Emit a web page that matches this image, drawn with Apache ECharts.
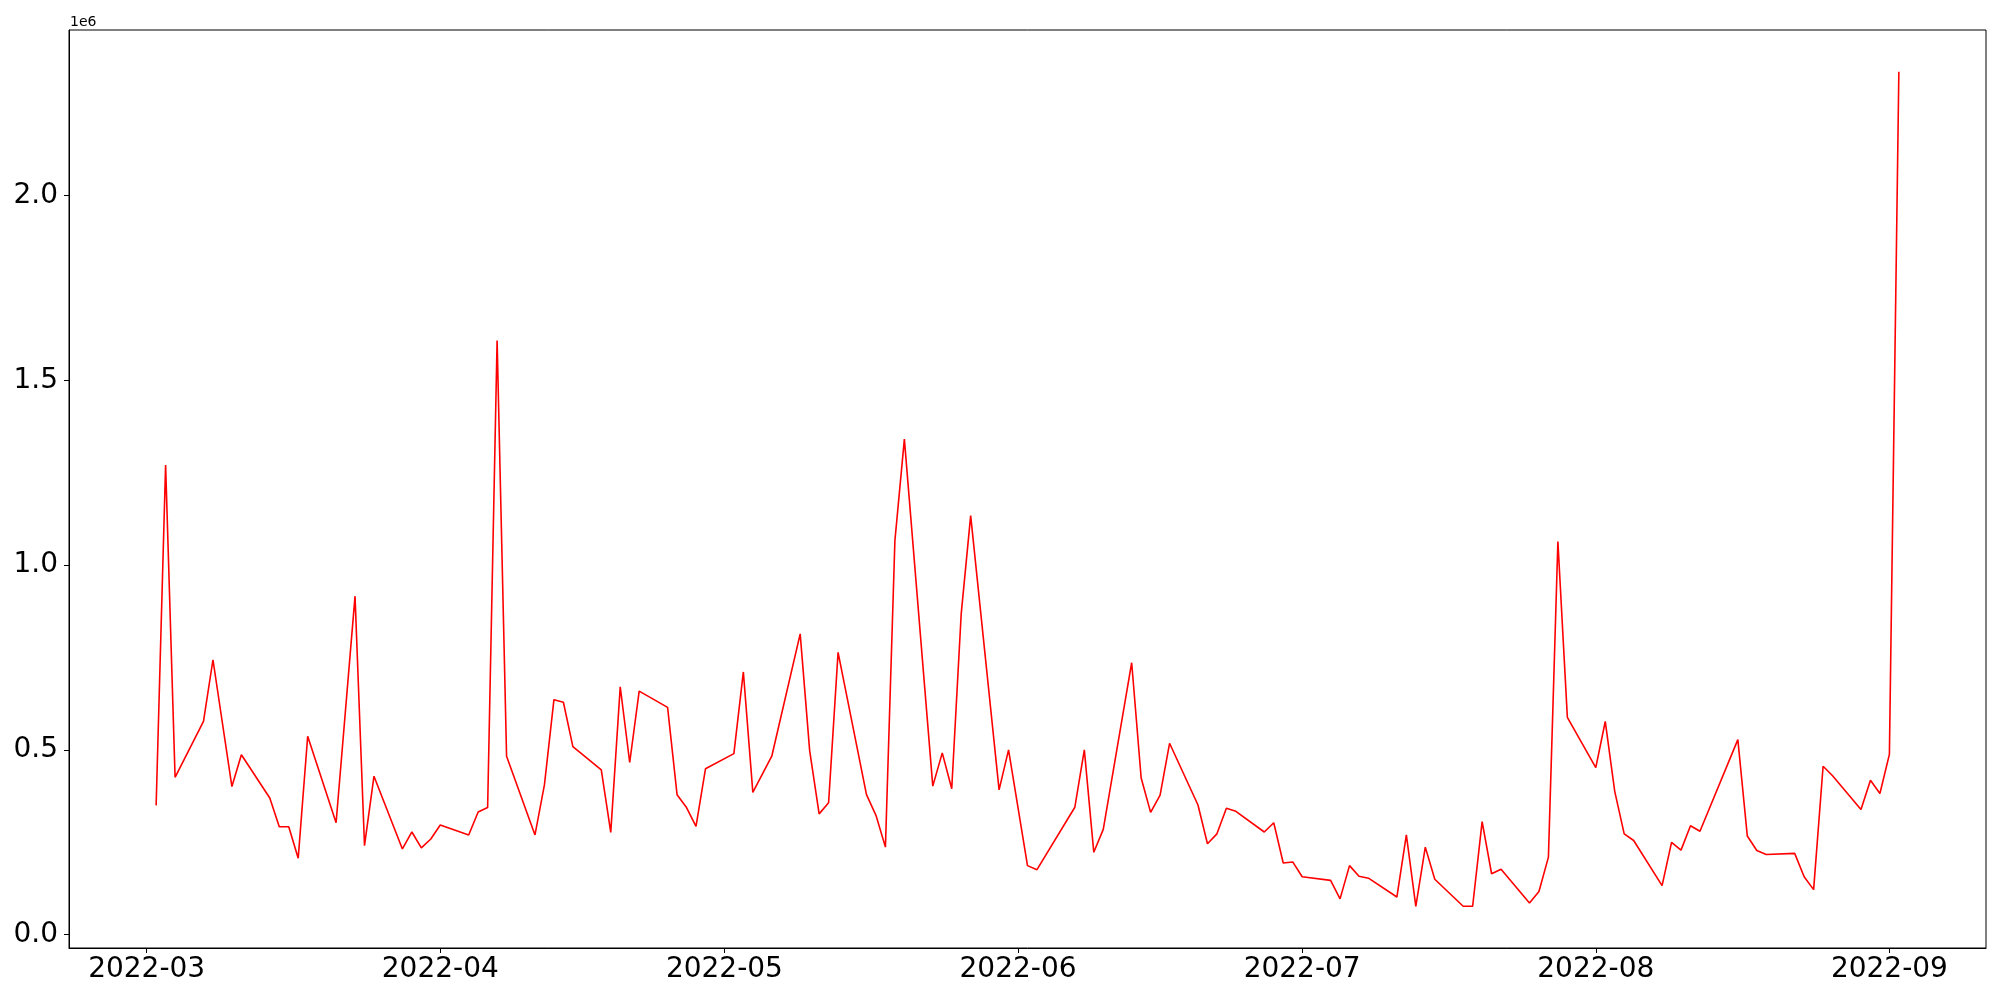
<!DOCTYPE html>
<html>
<head>
<meta charset="utf-8">
<script src="https://cdn.jsdelivr.net/npm/echarts@6/dist/echarts.min.js"></script>
<style>
  html, body { margin: 0; padding: 0; background: #fff; }
  #chart { width: 2000px; height: 1000px; }
</style>
</head>
<body>
<div id="chart"></div>
<script>
const dates = [
  '2022-03-02','2022-03-03','2022-03-04','2022-03-07','2022-03-08','2022-03-10','2022-03-11',
  '2022-03-14','2022-03-15','2022-03-16','2022-03-17','2022-03-18','2022-03-21','2022-03-23',
  '2022-03-24','2022-03-25','2022-03-28','2022-03-29','2022-03-30','2022-03-31','2022-04-01',
  '2022-04-04','2022-04-05','2022-04-06','2022-04-07','2022-04-08','2022-04-11','2022-04-12',
  '2022-04-13','2022-04-14','2022-04-15','2022-04-18','2022-04-19','2022-04-20','2022-04-21',
  '2022-04-22','2022-04-25','2022-04-26','2022-04-27','2022-04-28','2022-04-29','2022-05-02',
  '2022-05-03','2022-05-04','2022-05-06','2022-05-09','2022-05-10','2022-05-11','2022-05-12',
  '2022-05-13','2022-05-16','2022-05-17','2022-05-18','2022-05-19','2022-05-20','2022-05-23',
  '2022-05-24','2022-05-25','2022-05-26','2022-05-27','2022-05-30','2022-05-31','2022-06-02',
  '2022-06-03','2022-06-07','2022-06-08','2022-06-09','2022-06-10','2022-06-13','2022-06-14',
  '2022-06-15','2022-06-16','2022-06-17','2022-06-20','2022-06-21','2022-06-22','2022-06-23',
  '2022-06-24','2022-06-27','2022-06-28','2022-06-29','2022-06-30','2022-07-01','2022-07-04',
  '2022-07-05','2022-07-06','2022-07-07','2022-07-08','2022-07-11','2022-07-12','2022-07-13',
  '2022-07-14','2022-07-15','2022-07-18','2022-07-19','2022-07-20','2022-07-21','2022-07-22',
  '2022-07-25','2022-07-26','2022-07-27','2022-07-28','2022-07-29','2022-08-01','2022-08-02',
  '2022-08-03','2022-08-04','2022-08-05','2022-08-08','2022-08-09','2022-08-10','2022-08-11',
  '2022-08-12','2022-08-16','2022-08-17','2022-08-18','2022-08-19','2022-08-22','2022-08-23',
  '2022-08-24','2022-08-25','2022-08-26','2022-08-29','2022-08-30','2022-08-31','2022-09-01',
  '2022-09-02'
];
const values = [
  350000,1271000,426000,577000,744000,401000,487000,
  370000,292000,292000,207000,537000,303000,916000,
  241000,429000,232000,278000,235000,259000,297000,
  270000,332000,344000,1608000,483000,270000,406000,
  636000,629000,509000,446000,277000,671000,466000,
  659000,615000,379000,344000,293000,449000,490000,
  711000,385000,483000,814000,498000,327000,357000,
  764000,379000,323000,237000,1066000,1341000,402000,
  492000,395000,868000,1134000,392000,500000,187000,
  176000,345000,500000,223000,285000,736000,424000,
  331000,378000,518000,351000,246000,273000,342000,
  334000,278000,303000,194000,197000,157000,147000,
  97000,187000,158000,153000,102000,270000,77000,
  237000,150000,77000,77000,306000,165000,177000,
  86000,117000,210000,1064000,588000,452000,577000,
  388000,273000,255000,133000,250000,229000,295000,
  280000,528000,267000,228000,217000,220000,157000,
  122000,456000,430000,339000,418000,382000,488000,
  2335000
];
const xTickLabels = ['2022-03','2022-04','2022-05','2022-06','2022-07','2022-08','2022-09'];
const yTicks = [0, 500000, 1000000, 1500000, 2000000];

function t(s) {
  const p = s.split('-').map(Number);
  return Date.UTC(p[0], p[1] - 1, p[2] || 1);
}

const seriesData = dates.map((d, i) => [t(d), values[i]]);
const xFirst = t(dates[0]), xLast = t(dates[dates.length - 1]);
const xPad = (xLast - xFirst) * 0.05;
const vMin = Math.min(...values), vMax = Math.max(...values);
const yPad = (vMax - vMin) * 0.05;
const xTickValues = xTickLabels.map(t);

const chart = echarts.init(document.getElementById('chart'), null, { renderer: 'canvas' });
const font = 'DejaVu Sans';
chart.setOption({
  animation: false,
  backgroundColor: '#ffffff',
  grid: {
    left: 69, right: 14, top: 30, bottom: 52,
    show: true, borderColor: '#000', borderWidth: 1, backgroundColor: 'transparent'
  },
  graphic: [{
    type: 'text', left: 70, top: 15,
    style: { text: '1e6', fontSize: 14, fontFamily: font, fill: '#000' }
  }],
  xAxis: {
    type: 'value',
    min: xFirst - xPad,
    max: xLast + xPad,
    scale: true,
    splitLine: { show: false },
    axisLine: { show: true, onZero: false, lineStyle: { color: '#000', width: 1 } },
    axisTick: { show: true, length: 5, lineStyle: { color: '#000', width: 1 }, customValues: xTickValues },
    axisLabel: {
      show: true, fontSize: 28, fontFamily: font, color: '#000', margin: 8,
      customValues: xTickValues,
      formatter: function (v) {
        const d = new Date(v);
        return d.getUTCFullYear() + '-' + String(d.getUTCMonth() + 1).padStart(2, '0');
      }
    }
  },
  yAxis: {
    type: 'value',
    min: vMin - yPad,
    max: vMax + yPad,
    splitLine: { show: false },
    axisLine: { show: true, onZero: false, lineStyle: { color: '#000', width: 1 } },
    axisTick: { show: true, length: 5, lineStyle: { color: '#000', width: 1 }, customValues: yTicks },
    axisLabel: {
      show: true, fontSize: 28, fontFamily: font, color: '#000', margin: 11,
      customValues: yTicks,
      formatter: function (v) { return (v / 1e6).toFixed(1); }
    }
  },
  series: [{
    type: 'line',
    data: seriesData,
    showSymbol: false,
    symbol: 'none',
    lineStyle: { color: '#ff0000', width: 1.6 },
    itemStyle: { color: '#ff0000' }
  }]
});
</script>
</body>
</html>
